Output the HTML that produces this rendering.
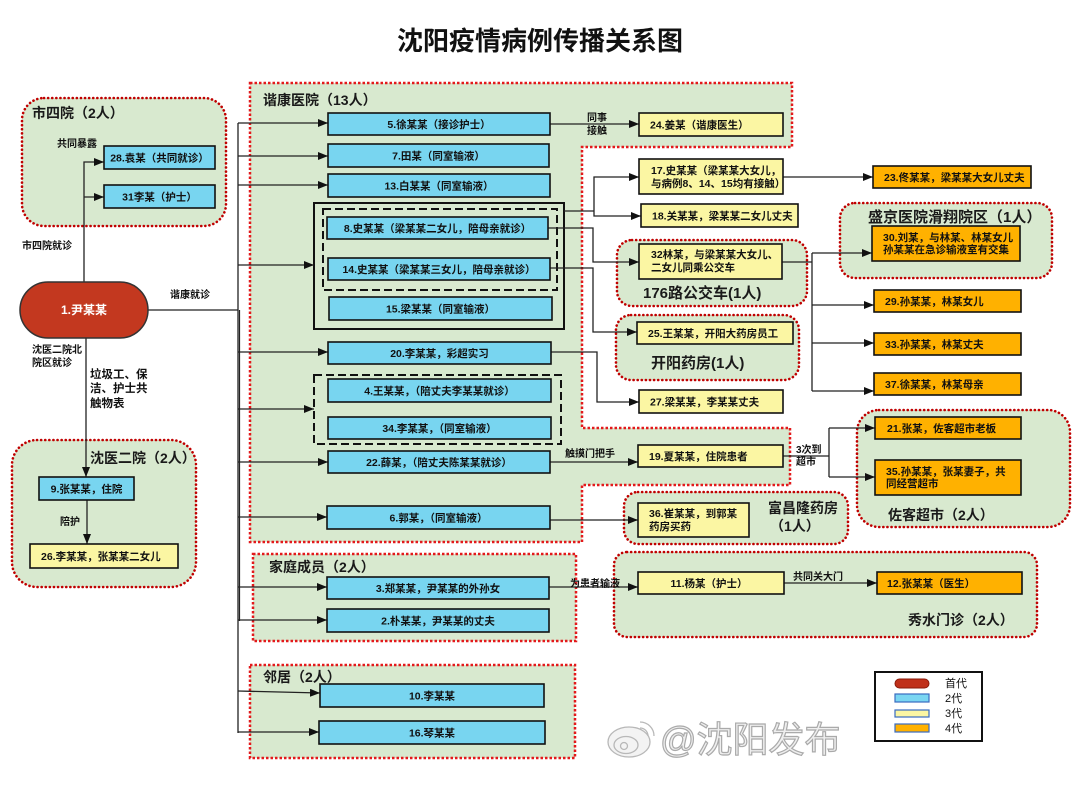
<!DOCTYPE html>
<html>
<head>
<meta charset="utf-8">
<style>
html,body{margin:0;padding:0;background:#fff;}
svg{display:block;}
text{font-family:"Liberation Sans","Noto Sans CJK SC",sans-serif;font-weight:bold;fill:#111;}
.n{font-size:10.5px;}
.c{text-anchor:middle;}
.g{font-size:14px;fill:#1a1a1a;}
.g15{font-size:15px;fill:#1a1a1a;}
.l{font-size:10px;}
.ln{fill:none;stroke:#222;stroke-width:1.3;}
.bl{fill:#78d5f0;stroke:#111;stroke-width:1.6;}
.ye{fill:#fbf6a3;stroke:#111;stroke-width:1.6;}
.or{fill:#ffb100;stroke:#111;stroke-width:1.6;}
.rg{fill:#d8e9cf;stroke:#c00000;stroke-width:2.6;stroke-dasharray:0.1 4;stroke-linecap:round;}
.sg{fill:#d8e9cf;stroke:#e3191b;stroke-width:2.5;stroke-dasharray:2.5 2;}
</style>
</head>
<body>
<svg width="1080" height="785" viewBox="0 0 1080 785" xmlns="http://www.w3.org/2000/svg">
<defs>
<marker id="a" markerWidth="10" markerHeight="8" refX="10" refY="4" orient="auto" markerUnits="userSpaceOnUse"><path d="M0,0L10,4L0,8z" fill="#111"/></marker>
</defs>

<!-- title -->
<text x="540" y="50" style="font-size:26px;text-anchor:middle;">沈阳疫情病例传播关系图</text>

<!-- groups -->
<rect class="rg" x="22" y="98" width="204" height="128" rx="22"/>
<rect class="rg" x="12" y="440" width="184" height="147" rx="25"/>
<polygon class="sg" points="250,83 792,83 792,147 582,147 582,428 790,428 790,485 582,485 582,542 250,542"/>
<rect class="sg" x="253" y="554" width="323" height="87"/>
<rect class="sg" x="250" y="665" width="325" height="93"/>
<rect class="rg" x="617" y="240" width="190" height="66" rx="15"/>
<rect class="rg" x="616" y="315" width="183" height="65" rx="15"/>
<rect class="rg" x="840" y="203" width="212" height="75" rx="15"/>
<rect class="rg" x="857" y="410" width="213" height="117" rx="22"/>
<rect class="rg" x="624" y="492" width="224" height="52" rx="14"/>
<rect class="rg" x="614" y="552" width="423" height="85" rx="13"/>

<!-- group labels -->
<text class="g" x="32" y="118">市四院（2人）</text>
<text class="g" x="90" y="463">沈医二院（2人）</text>
<text class="g" x="263" y="105">谐康医院（13人）</text>
<text class="g" x="269" y="572">家庭成员（2人）</text>
<text class="g" x="263" y="682">邻居（2人）</text>
<text class="g15" x="643" y="298">176路公交车(1人)</text>
<text class="g15" x="651" y="368">开阳药房(1人)</text>
<text class="g15" x="868" y="222">盛京医院滑翔院区（1人）</text>
<text class="g" x="888" y="520">佐客超市（2人）</text>
<text class="g" x="768" y="513">富昌隆药房</text>
<text class="g" x="770" y="531">（1人）</text>
<text class="g" x="908" y="625">秀水门诊（2人）</text>

<!-- inner containers -->
<rect x="314" y="203" width="250" height="126" fill="none" stroke="#111" stroke-width="2"/>
<rect x="323" y="209" width="234" height="81" fill="none" stroke="#111" stroke-width="2" stroke-dasharray="8 4"/>
<rect x="314" y="375" width="247" height="69" fill="none" stroke="#111" stroke-width="2" stroke-dasharray="8 4"/>

<!-- connectors -->
<path class="ln" d="M84,282 V162 H104" marker-end="url(#a)"/>
<path class="ln" d="M84,197 H104" marker-end="url(#a)"/>
<path class="ln" d="M148,310 H238"/>
<path class="ln" d="M238,123 V733"/>
<path class="ln" d="M239.5,310 V621" style="stroke-width:1.2"/>
<path class="ln" d="M238,123 H328" marker-end="url(#a)"/>
<path class="ln" d="M238,156 H328" marker-end="url(#a)"/>
<path class="ln" d="M238,185 H328" marker-end="url(#a)"/>
<path class="ln" d="M238,265 H314" marker-end="url(#a)"/>
<path class="ln" d="M238,352 H328" marker-end="url(#a)"/>
<path class="ln" d="M238,409 H314" marker-end="url(#a)"/>
<path class="ln" d="M238,462 H328" marker-end="url(#a)"/>
<path class="ln" d="M238,517 H327" marker-end="url(#a)"/>
<path class="ln" d="M238,587 H327" marker-end="url(#a)"/>
<path class="ln" d="M238,620 H327" marker-end="url(#a)"/>
<path class="ln" d="M238,691 L320,693" marker-end="url(#a)"/>
<path class="ln" d="M238,732 H319" marker-end="url(#a)"/>
<path class="ln" d="M86,338 V477" marker-end="url(#a)"/>
<path class="ln" d="M87,500 V544" marker-end="url(#a)"/>
<path class="ln" d="M550,124 H639" marker-end="url(#a)"/>
<path class="ln" d="M564,211 H594"/>
<path class="ln" d="M594,211 V177 H639" marker-end="url(#a)"/>
<path class="ln" d="M594,211 V216 H641" marker-end="url(#a)"/>
<path class="ln" d="M548,228 H593 V262 H639" marker-end="url(#a)"/>
<path class="ln" d="M550,268 H593 V332 H637" marker-end="url(#a)"/>
<path class="ln" d="M551,352 H597 V402 H639" marker-end="url(#a)"/>
<path class="ln" d="M783,177 H873" marker-end="url(#a)"/>
<path class="ln" d="M782,262 H812"/>
<path class="ln" d="M812,253 V391"/>
<path class="ln" d="M812,253 H872" marker-end="url(#a)"/>
<path class="ln" d="M812,305 H874" marker-end="url(#a)"/>
<path class="ln" d="M812,343 H874" marker-end="url(#a)"/>
<path class="ln" d="M812,391 H874" marker-end="url(#a)"/>
<path class="ln" d="M550,462 H638" marker-end="url(#a)"/>
<path class="ln" d="M783,456 H829"/>
<path class="ln" d="M829,428 V477"/>
<path class="ln" d="M829,428 H875" marker-end="url(#a)"/>
<path class="ln" d="M829,477 H875" marker-end="url(#a)"/>
<path class="ln" d="M550,520 H638" marker-end="url(#a)"/>
<path class="ln" d="M549,587 H638" marker-end="url(#a)"/>
<path class="ln" d="M784,583 H877" marker-end="url(#a)"/>

<!-- connector labels -->
<text class="l" x="57" y="147">共同暴露</text>
<text class="l" x="22" y="249">市四院就诊</text>
<text class="l" x="170" y="298">谐康就诊</text>
<text class="l" x="32" y="353">沈医二院北</text>
<text class="l" x="32" y="366">院区就诊</text>
<text x="90" y="378" style="font-size:11.5px">垃圾工、保</text>
<text x="90" y="392" style="font-size:11.5px">洁、护士共</text>
<text x="90" y="407" style="font-size:11.5px">触物表</text>
<text class="l" x="60" y="525">陪护</text>
<text class="l" x="587" y="121">同事</text>
<text class="l" x="587" y="134">接触</text>
<text class="l" x="565" y="457">触摸门把手</text>
<text class="l" x="796" y="453">3次到</text>
<text class="l" x="796" y="465">超市</text>
<text class="l" x="570" y="587">为患者输液</text>
<text class="l" x="793" y="580">共同关大门</text>

<!-- index case -->
<rect x="20" y="282" width="128" height="56" rx="28" fill="#c3381f" stroke="#333" stroke-width="1.5"/>
<text x="84" y="314" style="font-size:12px;text-anchor:middle;fill:#fff;">1.尹某某</text>

<!-- blue nodes -->
<rect class="bl" x="104" y="146" width="111" height="23"/>
<text class="n c" x="159.5" y="161.5">28.袁某（共同就诊）</text>
<rect class="bl" x="104" y="185" width="111" height="23"/>
<text class="n c" x="159.5" y="200.5">31李某（护士）</text>
<rect class="bl" x="39" y="477" width="95" height="23"/>
<text class="n c" x="86.5" y="492.5">9.张某某，住院</text>
<rect class="bl" x="328" y="113" width="222" height="22"/>
<text class="n c" x="439" y="128">5.徐某某（接诊护士）</text>
<rect class="bl" x="328" y="144" width="221" height="23"/>
<text class="n c" x="438.5" y="159.5">7.田某（同室输液）</text>
<rect class="bl" x="328" y="174" width="222" height="23"/>
<text class="n c" x="439" y="189.5">13.白某某（同室输液）</text>
<rect class="bl" x="327" y="217" width="221" height="22"/>
<text class="n c" x="437.5" y="232">8.史某某（梁某某二女儿，陪母亲就诊）</text>
<rect class="bl" x="328" y="258" width="222" height="22"/>
<text class="n c" x="439" y="273">14.史某某（梁某某三女儿，陪母亲就诊）</text>
<rect class="bl" x="329" y="297" width="223" height="23"/>
<text class="n c" x="440.5" y="312.5">15.梁某某（同室输液）</text>
<rect class="bl" x="328" y="342" width="223" height="22"/>
<text class="n c" x="439.5" y="357">20.李某某，彩超实习</text>
<rect class="bl" x="328" y="379" width="223" height="23"/>
<text class="n c" x="439.5" y="394.5">4.王某某，（陪丈夫李某某就诊）</text>
<rect class="bl" x="328" y="417" width="223" height="22"/>
<text class="n c" x="439.5" y="432">34.李某某，（同室输液）</text>
<rect class="bl" x="328" y="451" width="222" height="22"/>
<text class="n c" x="439" y="466">22.薛某，（陪丈夫陈某某就诊）</text>
<rect class="bl" x="327" y="506" width="223" height="23"/>
<text class="n c" x="438.5" y="521.5">6.郭某，（同室输液）</text>
<rect class="bl" x="327" y="577" width="222" height="22"/>
<text class="n c" x="438" y="592">3.郑某某，尹某某的外孙女</text>
<rect class="bl" x="327" y="609" width="222" height="23"/>
<text class="n c" x="438" y="624.5">2.朴某某，尹某某的丈夫</text>
<rect class="bl" x="320" y="684" width="224" height="23"/>
<text class="n c" x="432" y="699.5">10.李某某</text>
<rect class="bl" x="319" y="721" width="226" height="23"/>
<text class="n c" x="432" y="736.5">16.琴某某</text>

<!-- yellow nodes -->
<rect class="ye" x="30" y="544" width="148" height="24"/>
<text class="n" x="41" y="560">26.李某某，张某某二女儿</text>
<rect class="ye" x="639" y="113" width="144" height="23"/>
<text class="n" x="650" y="128.5">24.姜某（谐康医生）</text>
<rect class="ye" x="639" y="159" width="144" height="35"/>
<text class="n" x="651" y="174">17.史某某（梁某某大女儿，</text>
<text class="n" x="651" y="187">与病例8、14、15均有接触）</text>
<rect class="ye" x="641" y="204" width="157" height="23"/>
<text class="n" x="652" y="219.5">18.关某某，梁某某二女儿丈夫</text>
<rect class="ye" x="639" y="244" width="143" height="35"/>
<text class="n" x="651" y="258">32林某，与梁某某大女儿、</text>
<text class="n" x="651" y="271">二女儿同乘公交车</text>
<rect class="ye" x="637" y="322" width="156" height="22"/>
<text class="n" x="648" y="337">25.王某某，开阳大药房员工</text>
<rect class="ye" x="639" y="390" width="144" height="23"/>
<text class="n" x="650" y="405.5">27.梁某某，李某某丈夫</text>
<rect class="ye" x="638" y="445" width="145" height="22"/>
<text class="n" x="649" y="460">19.夏某某，住院患者</text>
<rect class="ye" x="638" y="503" width="111" height="34"/>
<text class="n" x="649" y="517">36.崔某某，到郭某</text>
<text class="n" x="649" y="530">药房买药</text>
<rect class="ye" x="638" y="572" width="146" height="22"/>
<text class="n c" x="709" y="587">11.杨某（护士）</text>

<!-- orange nodes -->
<rect class="or" x="873" y="166" width="158" height="22"/>
<text class="n" x="884" y="181">23.佟某某，梁某某大女儿丈夫</text>
<rect class="or" x="872" y="226" width="148" height="35"/>
<text class="n" x="883" y="241">30.刘某，与林某、林某女儿</text>
<text class="n" x="883" y="253">孙某某在急诊输液室有交集</text>
<rect class="or" x="874" y="290" width="147" height="22"/>
<text class="n" x="885" y="305">29.孙某某，林某女儿</text>
<rect class="or" x="874" y="333" width="147" height="22"/>
<text class="n" x="885" y="348">33.孙某某，林某丈夫</text>
<rect class="or" x="874" y="373" width="147" height="22"/>
<text class="n" x="885" y="388">37.徐某某，林某母亲</text>
<rect class="or" x="875" y="417" width="146" height="22"/>
<text class="n" x="887" y="432">21.张某，佐客超市老板</text>
<rect class="or" x="875" y="460" width="146" height="35"/>
<text class="n" x="886" y="475">35.孙某某，张某妻子，共</text>
<text class="n" x="886" y="487">同经营超市</text>
<rect class="or" x="877" y="572" width="145" height="22"/>
<text class="n" x="887" y="587">12.张某某（医生）</text>

<!-- legend -->
<rect x="875" y="672" width="107" height="69" fill="#fff" stroke="#111" stroke-width="2"/>
<rect x="895" y="679" width="34" height="9" rx="4.5" fill="#c0301a" stroke="#8a1a0a" stroke-width="1"/>
<rect x="895" y="694" width="34" height="8" fill="#7ad6f2" stroke="#3a6cc0" stroke-width="1.2"/>
<rect x="895" y="710" width="34" height="7" fill="#fbf6a3" stroke="#3a6cc0" stroke-width="1.2"/>
<rect x="895" y="724" width="34" height="8" fill="#ffb100" stroke="#3a6cc0" stroke-width="1.2"/>
<text x="945" y="687" style="font-size:11px;font-weight:normal;">首代</text>
<text x="945" y="702" style="font-size:11px;font-weight:normal;">2代</text>
<text x="945" y="717" style="font-size:11px;font-weight:normal;">3代</text>
<text x="945" y="732" style="font-size:11px;font-weight:normal;">4代</text>

<!-- watermark -->
<g fill="#f3f3f3" stroke="#b8b8b8" stroke-width="1.3">
<ellipse cx="629" cy="742" rx="21" ry="15"/>
<ellipse cx="626" cy="745" rx="12" ry="8.5"/>
<circle cx="624" cy="746" r="3.5"/>
<path d="M640,722 a14,14 0 0 1 14,14" fill="none"/>
<path d="M640,728 a8,8 0 0 1 8,8" fill="none"/>
</g>
<text x="660" y="752" style="font-size:36px;font-weight:normal;fill:#efefef;stroke:#aaaaaa;stroke-width:1.2;">@沈阳发布</text>
</svg>
</body>
</html>
